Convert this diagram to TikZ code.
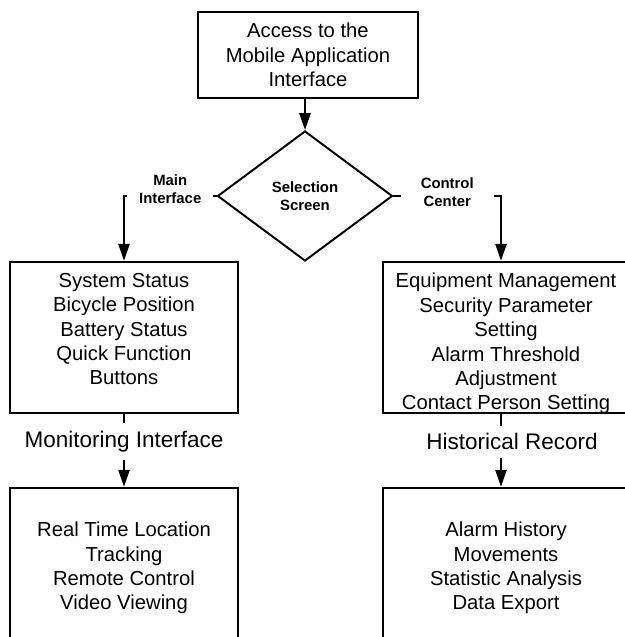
\documentclass[tikz,border=0pt]{standalone}
\usepackage{fontspec}
\setmainfont{Liberation Sans}
\usepackage{tikz}
\usetikzlibrary{shapes.geometric,arrows.meta,positioning}

\begin{document}
\begin{tikzpicture}[
    box/.style={draw=black, line width=1.9pt, inner sep=0pt},
    boxtext/.style={align=center, inner sep=0pt, font=\fontsize{14.4}{17.4}\selectfont},
    flow/.style={line width=1.4pt, -{Triangle[length=0.42cm, width=0.28cm]}},
    branch/.style={fill=white, align=center, inner ysep=1pt, font=\fontsize{10.6}{12.8}\selectfont\bfseries},
    tag/.style={fill=white, inner xsep=0.05cm, inner ysep=0.2cm, font=\fontsize{16}{19}\selectfont}]
    \useasboundingbox (0cm,0cm) rectangle (15.625cm,-15.925cm);

    \node[box, boxtext, minimum width=5.5cm, minimum height=2.15cm] (access) at (7.7cm,-1.375cm) {Access to the\\Mobile Application\\Interface};
    \node[diamond, draw=black, line width=1.4pt, minimum width=4.375cm, minimum height=3.25cm, inner sep=0pt,
          align=center, font=\fontsize{10.6}{12.8}\selectfont\bfseries] (select) at (7.625cm,-4.9cm) {Selection\\Screen};

    \node[box, minimum width=5.7cm, minimum height=3.775cm] (status) at (3.1cm,-8.4375cm) {};
    \node[boxtext, below=0.3cm of status.north] (statustext) {System Status\\Bicycle Position\\Battery Status\\Quick Function\\Buttons};
    \node[box, minimum width=6.15cm, minimum height=3.775cm] (control) at (12.65cm,-8.4375cm) {};
    \node[boxtext, below=0.3cm of control.north] (controltext) {Equipment Management\\Security Parameter\\Setting\\Alarm Threshold\\Adjustment\\Contact Person Setting};

    \node[box, boxtext, minimum width=5.7cm, minimum height=4cm] (tracking) at (3.1cm,-14.2cm) {Real Time Location\\Tracking\\Remote Control\\Video Viewing};
    \node[box, boxtext, minimum width=6.15cm, minimum height=4cm] (history) at (12.65cm,-14.2cm) {Alarm History\\Movements\\Statistic Analysis\\Data Export};

    \coordinate (controlbend) at (12.525cm,-4.9cm);

    \draw[flow] (access.south -| select.north) -- (select.north);
    \draw[flow] (select.west) -| node[branch, pos=0.25, yshift=0.17cm, inner xsep=0.3cm] (mainlabel) {Main\\Interface} (status.north);
    \draw[flow] (select.east) -- node[branch, yshift=0.1cm, inner xsep=0.5cm] (controllabel) {Control\\Center} (controlbend) -- (controlbend |- control.north);
    \draw[flow] (status) -- node[tag, pos=0.38] (monitorlabel) {Monitoring Interface} (tracking);
    \draw[flow] (control.south -| controlbend) -- node[tag, pos=0.38, xshift=0.275cm] (historylabel) {Historical Record} (history.north -| controlbend);
\end{tikzpicture}
\end{document}
